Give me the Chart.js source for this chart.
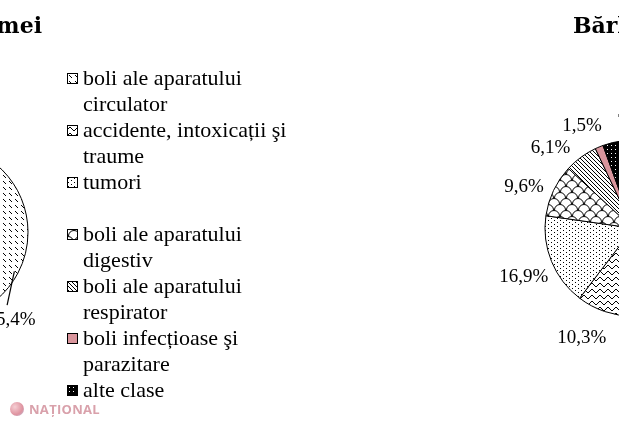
<!DOCTYPE html>
<html>
<head>
<meta charset="utf-8">
<script src="https://cdn.jsdelivr.net/npm/chart.js@4.4.0/dist/chart.umd.min.js"></script>
<style>
  html, body { margin: 0; padding: 0; background: #fff; }
  body { position: relative; width: 619px; height: 421px; overflow: hidden;
         font-family: 'Liberation Serif', 'Times New Roman', serif; }
  .pie { position: absolute; top: 0; }
  #legend { position: absolute; left: 67px; top: 65px; margin: 0; padding: 0; list-style: none;
            font-size: 22px; line-height: 26px; color: #000; }
  #legend li { display: flex; align-items: flex-start; white-space: nowrap; }
  #legend li.gap { margin-bottom: 26px; }
  #legend canvas { width: 11px; height: 11px; margin: 8px 5px 0 0; box-sizing: border-box;
                   border: 1px solid #000; flex: none; }
  #brand { position: absolute; left: 10px; top: 400px; display: flex; align-items: center;
           font: bold 13px 'Open Sans', sans-serif; color: #d9a1ab; letter-spacing: 0.3px; }
  #brand i { width: 14px; height: 14px; border-radius: 50%; margin-right: 5px; opacity: .85;
             background: radial-gradient(circle at 35% 35%, #f4c6cc, #d9808f 60%, #a7b6d8); }
</style>
</head>
<body>
<div class="pie" style="left:-250px"><canvas id="femeiChart" width="310" height="421"></canvas></div>
<div class="pie" style="left:470px"><canvas id="barbatiChart" width="300" height="421"></canvas></div>
<ul id="legend"></ul>
<div id="brand"><i></i>NAȚIONAL</div>

<script>
// cauze de deces, % din total
const categories = [
    ['boli ale aparatului', 'circulator'],
    ['accidente, intoxicații şi', 'traume'],
    ['tumori'],
    ['boli ale aparatului', 'digestiv'],
    ['boli ale aparatului', 'respirator'],
    ['boli infecțioase şi', 'parazitare'],
    ['alte clase']
];
const femei   = [65.4, 4.6, 13.9, 6.6, 3.9, 0.9, 4.7];
const barbati = [48.4, 10.3, 16.9, 9.6, 6.1, 1.5, 7.2];

// hasuri (tile-uri mici, repetate)
function tile(w, h, bg, draw) {
    const c = document.createElement('canvas');
    c.width = w; c.height = h;
    const x = c.getContext('2d');
    x.fillStyle = bg;
    x.fillRect(0, 0, w, h);
    draw(x);
    return c;
}
const dot = (x, px, py, col) => { x.fillStyle = col || '#000'; x.fillRect(px, py, 1, 1); };

const fills = [
    tile(6, 6, '#fff', x => { dot(x, 1, 1); dot(x, 2, 2); dot(x, 3, 3); }),
    tile(8, 6, '#fff', x => { [2, 1, 1, 2, 3, 4, 4, 3].forEach((y, i) => dot(x, i, y)); }),
    tile(6, 4, '#fff', x => { dot(x, 0, 0); dot(x, 3, 2); }),
    tile(12, 12, '#fff', x => {
        x.strokeStyle = '#000'; x.lineWidth = 1;
        x.beginPath(); x.arc(6, 6, 5.5, Math.PI, 2 * Math.PI); x.stroke();
        x.beginPath(); x.arc(0, 12, 5.5, Math.PI, 2 * Math.PI); x.stroke();
        x.beginPath(); x.arc(12, 12, 5.5, Math.PI, 2 * Math.PI); x.stroke();
    }),
    tile(4, 4, '#fff', x => { for (let i = 0; i < 4; i++) dot(x, i, i); }),
    '#d9959c',
    tile(4, 4, '#000', x => { dot(x, 1, 1, '#fff'); })
];

function fillFor(ctx, f) {
    return typeof f === 'string' ? f : ctx.createPattern(f, 'repeat');
}

const fmt = v => v.toFixed(1).replace('.', ',') + '%';

// etichete procentuale in afara feliilor
// shift = rotire in grade a etichetei, pull = apropiere de centru (px)
const pctLabels = {
    id: 'pctLabels',
    afterDatasetsDraw(chart, args, opts) {
        const ctx = chart.ctx;
        const values = chart.data.datasets[0].data;
        const shift = opts.shift || {};
        const pull = opts.pull || {};
        const leader = opts.leader || [];
        ctx.save();
        ctx.font = opts.font;
        ctx.fillStyle = '#000';
        ctx.strokeStyle = '#000';
        ctx.textAlign = 'center';
        ctx.textBaseline = 'middle';
        chart.getDatasetMeta(0).data.forEach((arc, i) => {
            const p = arc.getProps(['x', 'y', 'startAngle', 'endAngle', 'outerRadius'], true);
            const mid = (p.startAngle + p.endAngle) / 2;
            const a = mid + (shift[i] || 0) * Math.PI / 180;
            const d = p.outerRadius + opts.distance - (pull[i] || 0);
            const tx = p.x + Math.cos(a) * d;
            const ty = p.y + Math.sin(a) * d + opts.dy;
            if (leader.includes(i)) {
                ctx.lineWidth = 1.2;
                ctx.beginPath();
                ctx.moveTo(p.x + Math.cos(mid) * (p.outerRadius - 4), p.y + Math.sin(mid) * (p.outerRadius - 4));
                ctx.lineTo(tx - 4, ty - 15);
                ctx.stroke();
            }
            ctx.fillText(fmt(values[i]), tx, ty);
        });
        ctx.restore();
    }
};

function makePie(id, title, values, cfg) {
    const canvas = document.getElementById(id);
    const ctx = canvas.getContext('2d');
    return new Chart(canvas, {
        type: 'pie',
        data: {
            labels: categories,
            datasets: [{
                data: values,
                backgroundColor: fills.map(f => fillFor(ctx, f)),
                borderColor: '#000',
                borderWidth: 1,
                clip: false
            }]
        },
        options: {
            responsive: false,
            animation: false,
            rotation: cfg.rotation,
            radius: 88,
            layout: { padding: cfg.padding },
            plugins: {
                legend: { display: false },
                tooltip: { enabled: false },
                title: {
                    display: true,
                    text: title,
                    align: cfg.align,
                    color: '#000',
                    font: { family: "'DejaVu Serif', serif", size: 22, weight: 'bold', lineHeight: 1.2 },
                    padding: { top: 14, bottom: cfg.titleBottom }
                },
                pctLabels: {
                    font: "19px 'Liberation Serif', 'Times New Roman', serif",
                    distance: cfg.distance,
                    dy: 4,
                    shift: cfg.shift,
                    pull: cfg.pull,
                    leader: cfg.leader
                }
            }
        },
        plugins: [pctLabels]
    });
}

makePie('femeiChart', 'Femei', femei, {
    rotation: 0, align: 'end', titleBottom: 8, distance: 22, shift: { 0: 22 }, leader: [0],
    padding: { left: 88, right: 18, top: 0, bottom: 5 }
});
makePie('barbatiChart', 'Bărbați', barbati, {
    rotation: 6, align: 'start', titleBottom: 5, distance: 30,
    shift: { 1: 7, 3: -3, 4: -8, 5: -3, 6: 9 }, pull: { 6: 8 },
    padding: { left: 103, right: 77, top: 0, bottom: 10 }
});

// legenda HTML, cu aceleasi hasuri
const legend = document.getElementById('legend');
categories.forEach((lines, i) => {
    const li = document.createElement('li');
    if (i === 2) li.className = 'gap';
    const sw = document.createElement('canvas');
    sw.width = 9; sw.height = 9;
    const sctx = sw.getContext('2d');
    sctx.fillStyle = fillFor(sctx, fills[i]);
    sctx.fillRect(0, 0, 9, 9);
    const txt = document.createElement('span');
    txt.innerHTML = lines.join('<br>');
    li.appendChild(sw);
    li.appendChild(txt);
    legend.appendChild(li);
});
</script>
</body>
</html>
